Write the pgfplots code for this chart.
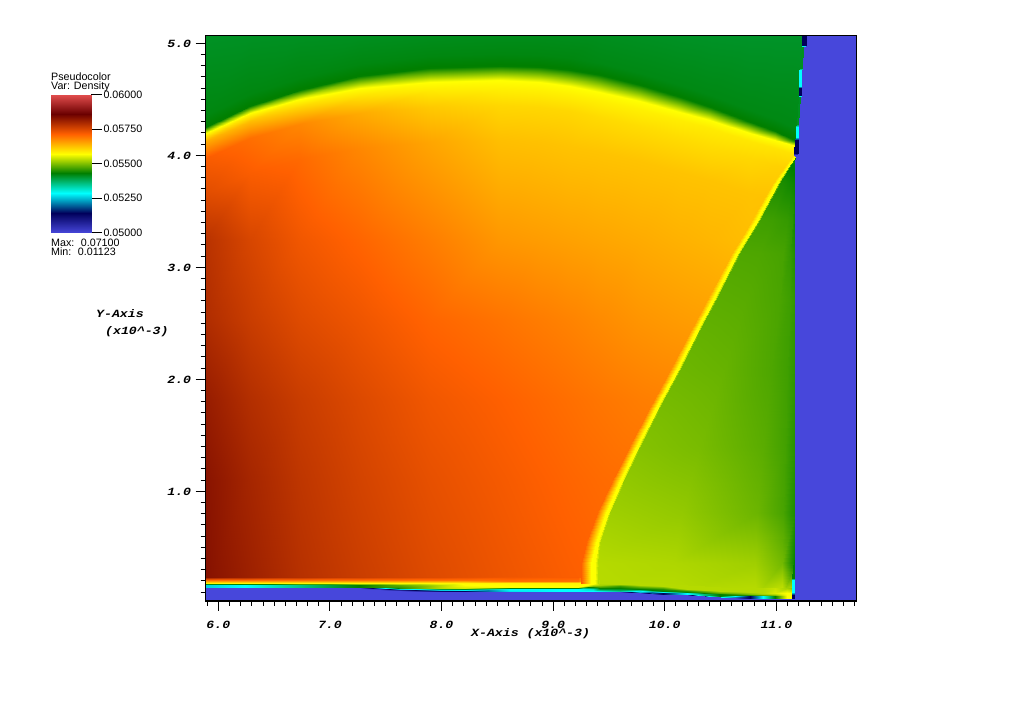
\documentclass[border=0pt]{standalone}
\usepackage{fontspec}
\setmainfont{Liberation Sans}
\newfontfamily\labfont[FakeStretch=1.2]{Liberation Mono}
\usepackage{pgfplots}
\pgfplotsset{compat=1.18}
\newcommand{\lab}{\labfont\bfseries\itshape\fontsize{11}{12}\selectfont}
\newcommand{\sm}{\fontsize{10.7}{11}\selectfont}
\pgfplotsset{
  colormap={hotdes}{rgb255=(71,71,219) rgb255=(0,0,91) rgb255=(0,255,255) rgb255=(0,127,0) rgb255=(255,255,0) rgb255=(255,96,0) rgb255=(107,0,0) rgb255=(224,76,76)},
  colormap name=hotdes,
  fld/.style={surf,shader=interp,point meta=\thisrow{d}},
}
\begin{document}
\begin{tikzpicture}[x=1pt,y=1pt]
\path[use as bounding box] (0,0) rectangle (1024,708);
\begin{axis}[
  at={(205.7pt,107pt)},anchor=south west,scale only axis,width=651pt,height=565.3pt,
  xmin=5.887,xmax=11.72,ymin=0.0205,ymax=5.068,
  point meta min=0.05,point meta max=0.06,
  axis background/.style={fill={rgb,255:red,71;green,71;blue,219}},
  axis on top,axis line style={line width=1.2pt,black},
  tick align=outside,xtick pos=left,ytick pos=left,
  xtick={6,7,8,9,10,11},xticklabels={6.0,7.0,8.0,9.0,10.0,11.0},
  ytick={1,2,3,4,5},yticklabels={1.0,2.0,3.0,4.0,5.0},
  minor xtick={5.9,6.1,6.2,6.3,6.4,6.5,6.6,6.7,6.8,6.9,7.1,7.2,7.3,7.4,7.5,7.6,7.7,7.8,7.9,8.1,8.2,8.3,8.4,8.5,8.6,8.7,8.8,8.9,9.1,9.2,9.3,9.4,9.5,9.6,9.7,9.8,9.9,10.1,10.2,10.3,10.4,10.5,10.6,10.7,10.8,10.9,11.1,11.2,11.3,11.4,11.5,11.6,11.7},
  minor ytick={0.1,0.2,0.3,0.4,0.5,0.6,0.7,0.8,0.9,1.1,1.2,1.3,1.4,1.5,1.6,1.7,1.8,1.9,2.1,2.2,2.3,2.4,2.5,2.6,2.7,2.8,2.9,3.1,3.2,3.3,3.4,3.5,3.6,3.7,3.8,3.9,4.1,4.2,4.3,4.4,4.5,4.6,4.7,4.8,4.9,5.0},
  major tick length=10pt,minor tick length=5pt,
  every tick/.style={black,line width=0.9pt},
  ticklabel style={font=\lab},
  xticklabel style={yshift=-7pt},
  yticklabel style={xshift=-1pt,yshift=-1pt},
]
% main field behind the shocks
\addplot[fld,mesh/cols=15] table {
x y d
5.887 4.199 .05571
6.284 4.378 .05571
6.732 4.503 .05571
7.270 4.601 .05571
7.897 4.654 .05571
8.524 4.672 .05571
8.882 4.654 .05571
9.151 4.619 .05571
9.420 4.565 .05571
9.778 4.485 .05571
10.136 4.387 .05571
10.405 4.315 .05571
10.764 4.199 .05571
10.988 4.137 .05571
11.167 4.083 .05571
5.887 4.128 .05647
6.284 4.306 .0563
6.732 4.431 .0561
7.270 4.529 .05598
7.897 4.583 .05589
8.524 4.601 .05584
8.882 4.583 .05584
9.151 4.547 .05584
9.420 4.494 .05584
9.778 4.413 .05584
10.136 4.315 .05587
10.405 4.244 .05589
10.764 4.128 .05593
10.988 4.065 .05596
11.167 4.011 .05598
5.887 3.976 .0572
6.284 4.154 .05701
6.732 4.279 .05679
7.270 4.378 .05647
7.897 4.431 .0562
8.524 4.449 .05607
8.882 4.431 .05607
9.151 4.396 .05607
9.420 4.342 .05604
9.778 4.262 .05602
10.136 4.163 .05602
10.405 4.092 .05602
10.764 3.976 .05607
10.988 3.913 .05612
11.167 3.860 .05616
5.887 3.663 .05743
6.284 3.842 .05719
6.732 3.967 .05706
7.270 4.065 .05679
7.897 4.119 .05652
8.524 4.137 .05629
8.882 4.119 .05627
9.151 4.083 .05625
9.420 4.029 .05625
9.778 3.949 .05625
10.136 3.851 .05625
10.405 3.779 .05625
10.764 3.663 .05625
10.988 3.601 .05627
11.167 3.547 .05629
5.887 3.244 .05782
6.284 3.244 .05753
6.732 3.244 .05728
7.270 3.244 .0571
7.897 3.244 .05688
8.524 3.244 .05665
8.882 3.244 .0566
9.151 3.244 .05656
9.420 3.244 .05652
9.778 3.244 .05647
10.136 3.244 .05641
10.405 3.244 .05637
10.764 3.244 .0563
10.988 3.244 .05627
11.167 3.244 .05625
5.887 2.529 .05791
6.284 2.529 .05767
6.732 2.529 .05746
7.270 2.529 .0573
7.897 2.529 .0571
8.524 2.529 .05697
8.882 2.529 .05689
9.151 2.529 .05683
9.420 2.529 .05676
9.778 2.529 .05667
10.136 2.529 .05661
10.405 2.529 .05657
10.764 2.529 .05652
10.988 2.529 .05652
11.167 2.529 .05652
5.887 1.815 .05815
6.284 1.815 .05788
6.732 1.815 .05767
7.270 1.815 .05748
7.897 1.815 .05728
8.524 1.815 .05715
8.882 1.815 .05707
9.151 1.815 .05701
9.420 1.815 .05695
9.778 1.815 .05688
10.136 1.815 .05683
10.405 1.815 .0568
10.764 1.815 .0568
10.988 1.815 .0568
11.167 1.815 .0568
5.887 1.100 .05828
6.284 1.100 .05801
6.732 1.100 .05777
7.270 1.100 .05757
7.897 1.100 .05738
8.524 1.100 .05724
8.882 1.100 .05716
9.151 1.100 .0571
9.420 1.100 .05705
9.778 1.100 .057
10.136 1.100 .057
10.405 1.100 .057
10.764 1.100 .057
10.988 1.100 .057
11.167 1.100 .057
5.887 0.118 .05832
6.284 0.118 .0581
6.732 0.118 .05786
7.270 0.118 .05767
7.897 0.118 .05748
8.524 0.118 .05733
8.882 0.118 .05725
9.151 0.118 .05719
9.420 0.118 .05714
9.778 0.118 .0571
10.136 0.118 .0571
10.405 0.118 .0571
10.764 0.118 .0571
10.988 0.118 .0571
11.167 0.118 .0571
};
% region above the bow shock
\addplot[fld,mesh/cols=15] table {
x y d
5.887 5.068 .05408
6.284 5.068 .05409
6.732 5.068 .0541
7.270 5.068 .05411
7.897 5.068 .05413
8.524 5.068 .05414
8.882 5.068 .05414
9.151 5.068 .05413
9.420 5.068 .05412
9.778 5.068 .0541
10.136 5.068 .05408
10.405 5.068 .05407
10.764 5.068 .05406
10.988 5.068 .05406
11.239 5.068 .05406
5.887 4.360 .0542
6.284 4.547 .0542
6.732 4.690 .0542
7.270 4.815 .0542
7.897 4.887 .0542
8.524 4.904 .0542
8.882 4.895 .0542
9.151 4.869 .0542
9.420 4.824 .05418
9.778 4.735 .05418
10.136 4.628 .05418
10.405 4.538 .05418
10.764 4.404 .05418
10.988 4.324 .05418
11.185 4.235 .05418
5.887 4.252 .0543
6.284 4.440 .0543
6.732 4.583 .0543
7.270 4.708 .0543
7.897 4.779 .0543
8.524 4.797 .0543
8.882 4.788 .0543
9.151 4.762 .0543
9.420 4.717 .0543
9.778 4.628 .0543
10.136 4.520 .0543
10.405 4.431 .0543
10.764 4.297 .0543
10.988 4.217 .0543
11.176 4.127 .0543
5.887 4.199 .05571
6.284 4.378 .05571
6.732 4.503 .05571
7.270 4.601 .05571
7.897 4.654 .05571
8.524 4.672 .05571
8.882 4.654 .05571
9.151 4.619 .05571
9.420 4.565 .05571
9.778 4.485 .05571
10.136 4.387 .05571
10.405 4.315 .05571
10.764 4.199 .05571
10.988 4.137 .05571
11.176 4.083 .05571
};
% wedge behind the oblique shock
\addplot[fld,mesh/cols=5] table {
x y d
11.167 3.985 .0542
11.167 3.985 .0542
11.167 3.985 .0542
11.167 3.985 .0542
11.167 3.985 .0542
11.006 3.752 .05446
11.069 3.752 .05443
11.131 3.752 .05438
11.158 3.752 .05434
11.167 3.752 .0543
10.827 3.422 .05465
10.961 3.422 .05463
11.096 3.422 .05458
11.140 3.422 .05453
11.167 3.422 .05436
10.648 3.127 .05473
10.854 3.127 .05472
11.060 3.127 .05468
11.122 3.127 .05458
11.167 3.127 .05445
10.432 2.708 .05480
10.728 2.708 .05478
11.033 2.708 .05470
11.122 2.708 .05463
11.167 2.708 .05455
10.110 2.083 .0549
10.531 2.083 .05486
10.952 2.083 .05472
11.096 2.083 .05464
11.167 2.083 .05453
9.751 1.395 .05503
10.316 1.395 .05496
10.880 1.395 .05479
11.078 1.395 .05466
11.167 1.395 .05449
9.483 0.806 .05518
10.155 0.806 .05511
10.827 0.806 .05489
11.060 0.806 .05469
11.167 0.806 .05443
9.357 0.359 .0553
10.083 0.359 .05526
10.809 0.359 .05518
11.051 0.359 .05493
11.167 0.359 .05429
9.357 0.056 .05532
10.083 0.056 .05532
10.809 0.056 .05535
11.051 0.056 .05551
11.167 0.056 .05568
};
% thin layer along the lower edge
\addplot[fld,mesh/cols=8] table {
x y d
5.887 .234 .05832
5.887 .207 .0570
5.887 .185 .0558
5.887 .167 .0526
5.887 .140 .0526
5.887 .133 .0500
5.887 .127 .0500
5.887 .0205 .0500
6.239 .234 .0581
6.239 .207 .0570
6.239 .185 .0558
6.239 .167 .05286
6.239 .140 .05286
6.239 .133 .0500
6.239 .127 .0500
6.239 .0205 .0500
6.732 .234 .05786
6.732 .207 .0570
6.732 .185 .0558
6.732 .167 .0535
6.732 .140 .0535
6.732 .133 .0500
6.732 .127 .0500
6.732 .0205 .0500
7.270 .234 .05767
7.270 .207 .0570
7.270 .185 .0558
7.270 .167 .0543
7.270 .140 .0543
7.270 .133 .0500
7.270 .127 .0500
7.270 .0205 .0500
7.628 .234 .05755
7.628 .207 .0570
7.628 .185 .0558
7.628 .167 .0548
7.628 .140 .0545
7.628 .118 .0507
7.628 .109 .0500
7.628 .0205 .0500
7.986 .234 .05745
7.986 .207 .0570
7.986 .185 .0558
7.986 .167 .0553
7.986 .140 .0553
7.986 .114 .0512
7.986 .105 .0500
7.986 .0205 .0500
8.210 .234 .05738
8.210 .207 .0570
8.210 .185 .0558
8.210 .163 .0557
8.210 .136 .0555
8.210 .114 .05143
8.210 .105 .0500
8.210 .0205 .0500
8.614 .234 .05727
8.614 .203 .0570
8.614 .180 .0558
8.614 .145 .0557
8.614 .132 .0529
8.614 .109 .0527
8.614 .100 .0500
8.614 .0205 .0500
9.062 .234 .0572
9.062 .203 .0570
9.062 .180 .0558
9.062 .145 .0557
9.062 .132 .05286
9.062 .109 .05286
9.062 .100 .0500
9.062 .0205 .0500
9.223 .234 .05718
9.223 .203 .0570
9.223 .180 .0558
9.223 .145 .0557
9.223 .132 .05286
9.223 .109 .05286
9.223 .100 .0500
9.223 .0205 .0500
9.357 .225 .0557
9.357 .198 .0557
9.357 .172 .0557
9.357 .154 .0550
9.357 .132 .0532
9.357 .109 .05286
9.357 .100 .0500
9.357 .0205 .0500
9.420 .207 .0553
9.420 .180 .0553
9.420 .163 .0552
9.420 .145 .0547
9.420 .127 .0540
9.420 .109 .0530
9.420 .100 .0500
9.420 .0205 .0500
9.599 .198 .0553
9.599 .172 .0553
9.599 .154 .0546
9.599 .136 .0543
9.599 .118 .0538
9.599 .109 .0535
9.599 .100 .0500
9.599 .0205 .0500
9.778 .189 .0553
9.778 .163 .0553
9.778 .145 .0548
9.778 .127 .0543
9.778 .109 .0527
9.778 .105 .0525
9.778 .096 .0500
9.778 .0205 .0500
9.984 .180 .0553
9.984 .154 .0553
9.984 .127 .0545
9.984 .114 .0543
9.984 .096 .05143
9.984 .087 .05143
9.984 .078 .0500
9.984 .0205 .0500
10.200 .163 .0553
10.200 .127 .0553
10.200 .114 .0545
10.200 .105 .0543
10.200 .096 .05286
10.200 .082 .05286
10.200 .073 .0500
10.200 .0205 .0500
10.495 .145 .0553
10.495 .109 .0553
10.495 .096 .0548
10.495 .082 .0543
10.495 .064 .0543
10.495 .060 .0530
10.495 .055 .0500
10.495 .0205 .0500
10.764 .136 .0553
10.764 .100 .0553
10.764 .082 .0550
10.764 .073 .0545
10.764 .064 .05143
10.764 .051 .05143
10.764 .042 .0500
10.764 .0205 .0500
10.880 .136 .0553
10.880 .091 .0553
10.880 .082 .0552
10.880 .073 .0548
10.880 .064 .05286
10.880 .051 .05286
10.880 .042 .0500
10.880 .0205 .0500
10.988 .136 .0554
10.988 .091 .0555
10.988 .082 .0553
10.988 .073 .0550
10.988 .064 .0543
10.988 .051 .0543
10.988 .042 .0500
10.988 .0205 .0500
11.096 .136 .0552
11.096 .091 .0557
11.096 .082 .0557
11.096 .073 .0557
11.096 .064 .0557
11.096 .051 .0557
11.096 .042 .0500
11.096 .0205 .0500
11.167 .136 .0550
11.167 .091 .0557
11.167 .082 .0557
11.167 .073 .0557
11.167 .064 .0557
11.167 .051 .0557
11.167 .042 .0500
11.167 .0205 .0500
};
% oblique shock
\addplot[fld,mesh/cols=4] table {
x y d
11.140 3.985 .0560
11.158 3.985 .05571
11.167 3.985 .05571
11.172 3.985 .0542
10.970 3.752 .0562
10.999 3.752 .05571
11.013 3.752 .05571
11.033 3.752 .05446
10.782 3.422 .05627
10.820 3.422 .05571
10.834 3.422 .05571
10.854 3.422 .05465
10.603 3.127 .05637
10.640 3.127 .05571
10.655 3.127 .05571
10.674 3.127 .05473
10.379 2.708 .05652
10.425 2.708 .05571
10.440 2.708 .05571
10.459 2.708 .0548
10.235 2.440 .05662
10.282 2.440 .05571
10.296 2.440 .05571
10.316 2.440 .05484
10.047 2.083 .05676
10.103 2.083 .05571
10.117 2.083 .05571
10.137 2.083 .0549
9.868 1.752 .05688
9.924 1.752 .05571
9.938 1.752 .05571
9.958 1.752 .05497
9.680 1.395 .05697
9.744 1.395 .05571
9.759 1.395 .05571
9.778 1.395 .05503
9.519 1.073 .05705
9.592 1.073 .05571
9.606 1.073 .05571
9.626 1.073 .0551
9.393 0.806 .05708
9.476 0.806 .05571
9.490 0.806 .05571
9.510 0.806 .05518
9.295 0.538 .05712
9.380 0.538 .05571
9.402 0.538 .05571
9.424 0.538 .05526
9.250 0.359 .05715
9.339 0.359 .05571
9.375 0.359 .05571
9.398 0.359 .0553
9.250 0.181 .05718
9.339 0.181 .05571
9.375 0.181 .05571
9.398 0.181 .05531
};
% right edge, upper part
\addplot[fld,mesh/cols=2] table {
x y d
11.230 5.068 .05143
11.266 5.068 .05143
11.230 4.985 .05143
11.266 4.985 .05143
11.230 4.967 .0541
11.239 4.967 .0541
11.216 4.779 .0541
11.230 4.779 .0541
11.207 4.762 .05286
11.225 4.762 .05286
11.207 4.619 .05286
11.225 4.619 .05286
11.207 4.601 .05143
11.225 4.601 .05143
11.207 4.538 .05143
11.225 4.538 .05143
11.203 4.520 .0541
11.212 4.520 .0541
11.185 4.279 .0541
11.194 4.279 .0541
11.176 4.253 .05286
11.198 4.253 .05286
11.176 4.163 .05286
11.198 4.163 .05286
11.167 4.137 .05143
11.194 4.137 .05143
11.158 4.020 .05143
11.190 4.020 .05143
11.158 4.002 .0500
11.176 4.002 .0500
};
% right edge, lower part
\addplot[fld,mesh/cols=2] table {
x y d
11.154 .386 .0543
11.167 .386 .0543
11.140 .225 .0543
11.167 .225 .0543
11.140 .207 .05286
11.167 .207 .05286
11.140 .100 .05286
11.167 .100 .05286
11.140 .073 .05143
11.167 .073 .05143
11.140 .046 .05143
11.167 .046 .05143
};
\end{axis}
% colour bar
\begin{axis}[
  at={(51pt,475.3pt)},anchor=south west,scale only axis,width=40pt,height=138pt,
  xmin=0,xmax=1,ymin=0.05,ymax=0.06,
  point meta min=0.05,point meta max=0.06,
  hide x axis,axis y line*=right,y axis line style={draw=none},
  ytick={0.05,0.0525,0.055,0.0575,0.06},
  yticklabels={0.05000,0.05250,0.05500,0.05750,0.06000},
  scaled y ticks=false,
  tick align=outside,major tick length=11pt,
  every tick/.style={black,line width=0.8pt},
  yticklabel style={font=\sm,xshift=-2pt},
]
\addplot[fld,mesh/cols=2] table {
x y d
0 .05 .05
1 .05 .05
0 .05143 .05143
1 .05143 .05143
0 .05286 .05286
1 .05286 .05286
0 .05429 .05429
1 .05429 .05429
0 .05571 .05571
1 .05571 .05571
0 .05714 .05714
1 .05714 .05714
0 .05857 .05857
1 .05857 .05857
0 .06 .06
1 .06 .06
};
\end{axis}
\node[anchor=base west,inner sep=0pt,font=\sm] at (51,627.3) {Pseudocolor};
\node[anchor=base west,inner sep=0pt,font=\sm] at (51,618) {Var: Density};
\node[anchor=base west,inner sep=0pt,font=\sm] at (51,461.3) {Max:\hspace{6.5pt}0.07100};
\node[anchor=base west,inner sep=0pt,font=\sm] at (51,452.3) {Min:\hspace{6.5pt}0.01123};
\node[anchor=base west,inner sep=0pt,font=\lab] at (96,390) {Y-Axis};
\node[anchor=base west,inner sep=0pt,font=\lab] at (105,373) {(x10\^{}-3)};
\node[anchor=base west,inner sep=0pt,font=\lab] at (471,71) {X-Axis (x10\^{}-3)};
\end{tikzpicture}
\end{document}
